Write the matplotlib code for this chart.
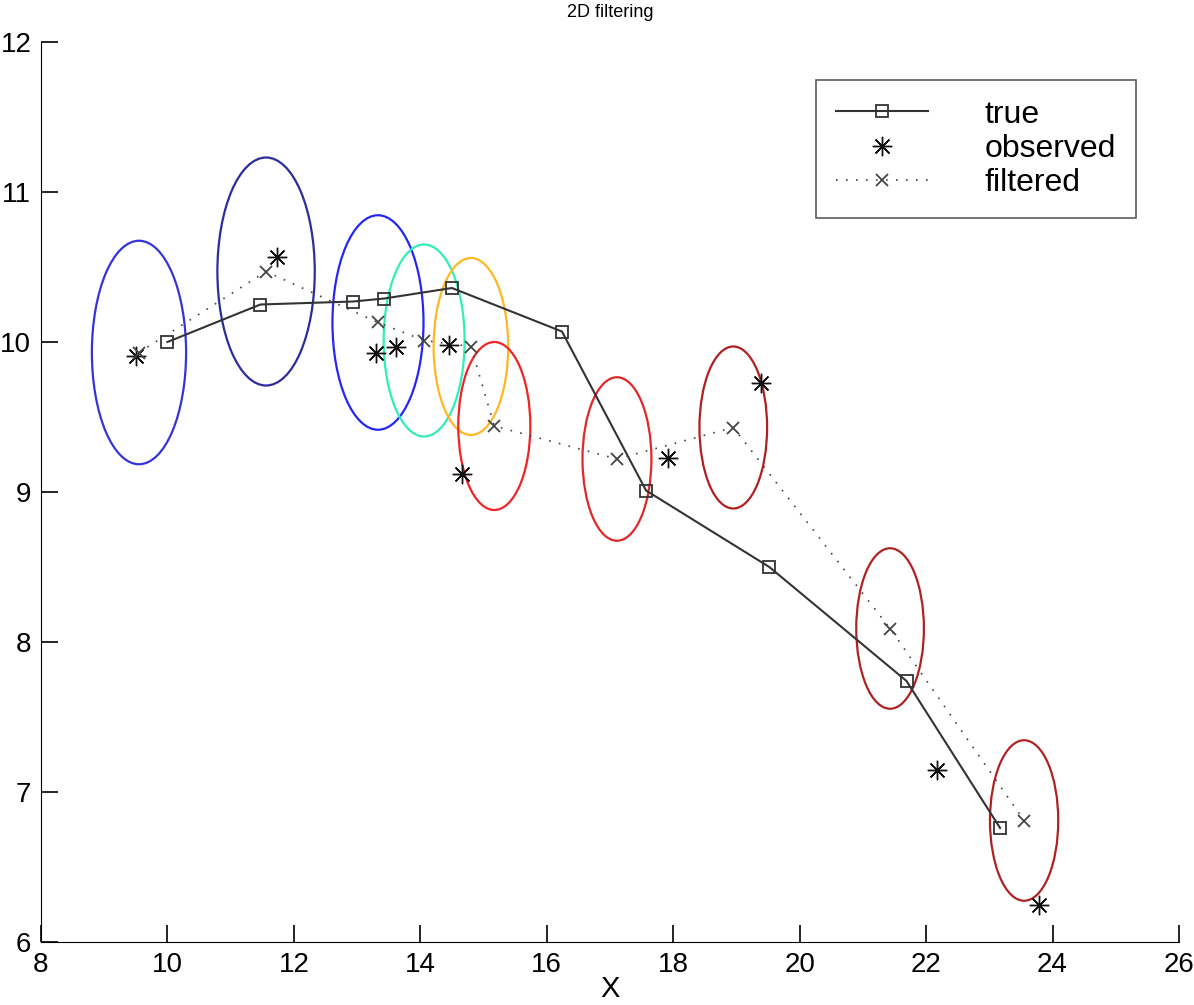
import matplotlib
matplotlib.use("Agg")
import matplotlib.pyplot as plt
from matplotlib.patches import Ellipse

plt.rcParams["font.family"] = ["Liberation Sans", "DejaVu Sans"]

# 실제 궤적
true_x = [10.0, 11.47, 12.94, 13.43, 14.50, 16.24, 17.57, 19.52, 21.69, 23.17]
true_y = [10.0, 10.25, 10.27, 10.29, 10.36, 10.07, 9.01, 8.50, 7.74, 6.76]

# 관측값
obs_x = [9.50, 11.73, 13.30, 13.62, 14.46, 14.66, 17.91, 19.39, 22.18, 23.79]
obs_y = [9.91, 10.57, 9.93, 9.97, 9.98, 9.12, 9.23, 9.73, 7.15, 6.25]

# 필터 추정값
filt_x = [9.55, 11.56, 13.33, 14.06, 14.80, 15.17, 17.11, 18.95, 21.43, 23.55]
filt_y = [9.93, 10.47, 10.13, 10.01, 9.97, 9.44, 9.22, 9.43, 8.09, 6.81]

# 공분산 타원 반지름 (x, y)
ell_rx = [0.745, 0.77, 0.72, 0.64, 0.59, 0.57, 0.545, 0.535, 0.535, 0.54]
ell_ry = [0.745, 0.76, 0.715, 0.64, 0.59, 0.56, 0.545, 0.54, 0.535, 0.535]
ell_colors = ["#3434d8", "#2c2c9c", "#2626f4", "#30eeb8", "#ffb822",
              "#f02424", "#e02828", "#b02020", "#b02222", "#b02222"]

fig = plt.figure(figsize=(11.94, 10.05), dpi=100)
ax = fig.add_axes([41/1194, 63/1005, 1138/1194, 900/1005])

for cx, cy, rx, ry, c in zip(filt_x, filt_y, ell_rx, ell_ry, ell_colors):
    ax.add_patch(Ellipse((cx, cy), 2*rx, 2*ry, fill=False, edgecolor=c, linewidth=1.6))

ax.plot(true_x, true_y, "-s", color="#333333", linewidth=1.5, markersize=9,
        markerfacecolor="none", markeredgewidth=1.3, label="true")
ax.plot(obs_x, obs_y, linestyle="none", marker=(8, 2, 0), color="#111111",
        markersize=14, markeredgewidth=1.0, label="observed")
ax.plot(filt_x, filt_y, linestyle=(0, (1, 5)), marker="x", color="#444444",
        linewidth=1.2, markersize=9, markeredgewidth=1.3, label="filtered")

ax.set_xlim(8, 26)
ax.set_ylim(6, 12)
ax.set_xticks(range(8, 27, 2))
ax.set_yticks(range(6, 13))
ax.spines["top"].set_visible(False)
ax.spines["right"].set_visible(False)
ax.tick_params(direction="in", length=12, width=1.2, labelsize=20, pad=7)
ax.set_xlabel("X", fontsize=21, labelpad=-2)
ax.set_title("2D filtering", fontsize=13, pad=18)

leg = ax.legend(loc="upper left", bbox_to_anchor=(0.681, 0.958), fontsize=23,
                frameon=True, fancybox=False, edgecolor="#333333",
                handlelength=2.9, handletextpad=1.75, labelspacing=0.13,
                borderpad=0.62, borderaxespad=0)
leg.get_frame().set_linewidth(1.2)

fig.savefig("out.png", dpi=100)
